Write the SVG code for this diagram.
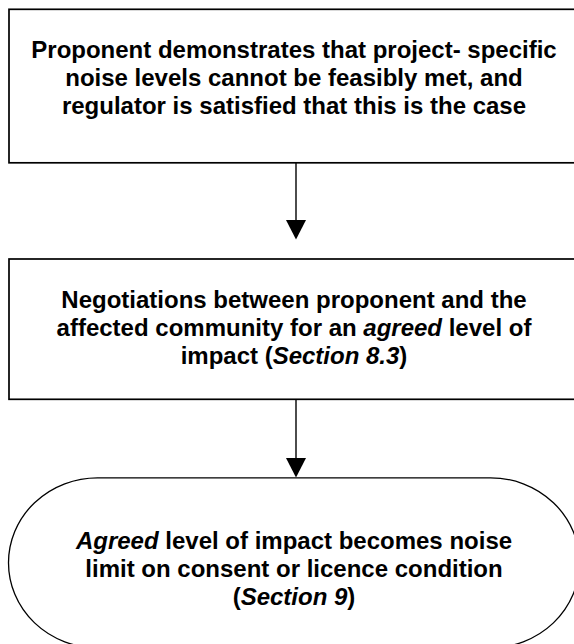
<svg xmlns="http://www.w3.org/2000/svg" width="574" height="644" viewBox="0 0 574 644">
<style>
.box{fill:#fff;stroke:#000;stroke-width:1.7}
.term{fill:#fff;stroke:#000;stroke-width:1.3}
.t{font-family:"Liberation Sans",Arial,sans-serif;font-size:24px;font-weight:bold;fill:#000;text-anchor:middle}
.i{font-style:italic}
.conn{stroke:#000;stroke-width:1.4;fill:none}
.head{fill:#000;stroke:none}
</style>
<rect width="574" height="644" fill="#fff"/>
<g id="connectors">
<line class="conn" x1="296" y1="163" x2="296" y2="221"/>
<polygon class="head" points="286,220 306,220 296,239.5"/>
<line class="conn" x1="296" y1="399" x2="296" y2="459"/>
<polygon class="head" points="286,458 306,458 296,477.5"/>
</g>
<g id="node1">
<rect class="box" x="9" y="9.3" width="572" height="153.5"/>
<text class="t" x="294" y="58.3">Proponent demonstrates that project- specific</text>
<text class="t" x="294" y="86.2">noise levels cannot be feasibly met, and</text>
<text class="t" x="294" y="114">regulator is satisfied that this is the case</text>
</g>
<g id="node2">
<rect class="box" x="9" y="259" width="572" height="140.3"/>
<text class="t" x="294" y="308.3">Negotiations between proponent and the</text>
<text class="t" x="294" y="336.1">affected community for an <tspan class="i">agreed</tspan> level of</text>
<text class="t" x="294" y="364">impact (<tspan class="i">Section 8.3</tspan>)</text>
</g>
<g id="node3">
<rect class="term" x="8.5" y="477.8" width="571" height="170" rx="89" ry="85"/>
<text class="t" x="294" y="549.3"><tspan class="i">Agreed</tspan> level of impact becomes noise</text>
<text class="t" x="294" y="577.3">limit on consent or licence condition</text>
<text class="t" x="294" y="605">(<tspan class="i">Section 9</tspan>)</text>
</g>
</svg>
